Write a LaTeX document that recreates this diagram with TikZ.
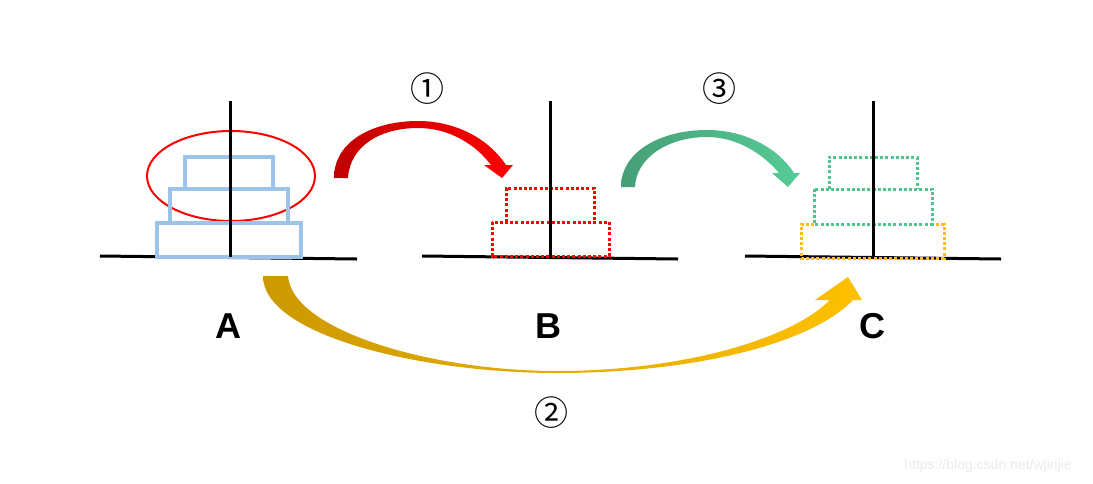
\documentclass[tikz,border=0pt]{standalone}
\usepackage{fontspec}
\setmainfont{Liberation Sans}
\newfontfamily\cjk{Noto Sans CJK SC}
\definecolor{diskblue}{RGB}{157,195,230}
\definecolor{ringred}{RGB}{255,0,0}
\definecolor{dkred}{RGB}{192,0,0}
\definecolor{dkgreen}{RGB}{70,158,118}
\definecolor{ltgreen}{RGB}{86,204,150}
\definecolor{dotgreen}{RGB}{80,196,142}
\definecolor{dkgold}{RGB}{204,153,0}
\definecolor{gold}{RGB}{255,192,0}
\begin{document}
\begin{tikzpicture}[x=1pt,y=-1pt,
  peg/.style={line width=3pt,black},
  soliddisk/.style={draw=diskblue,line width=4pt},
  dotdisk/.style={line width=3pt,dash pattern=on 3pt off 2.2pt},
  lbl/.style={font=\fontsize{36}{36}\selectfont\bfseries,inner sep=0pt},
  num/.style={font=\cjk\fontsize{34}{34}\selectfont,inner sep=0pt}]
\useasboundingbox (0,0) rectangle (1093,483);
\fill[white] (0,0) rectangle (1093,483);

% ---------- tower A ----------
\draw[ringred,line width=2pt] (231,176) ellipse [x radius=84, y radius=45];
\draw[peg] (100,256) -- (357,259);
\draw[soliddisk] (185,157) rectangle (273,189);
\draw[soliddisk] (170,189) rectangle (288,223);
\draw[soliddisk] (157,223) rectangle (301,257);
\coordinate (Atop) at (230,101);
\coordinate (Abot) at (230,257);
\draw[peg] (Atop) -- (Abot);

% ---------- tower B ----------
\draw[peg] (422,256) -- (678,259);
\draw[dotdisk,ringred] (492,222) rectangle (609,256);
\draw[dotdisk,ringred] (506,222) -- (506,188) -- (594,188) -- (594,222);
\coordinate (Btop) at (550,101);
\coordinate (Bbot) at (550,257);
\draw[peg] (Btop) -- (Bbot);

% ---------- tower C ----------
\draw[peg] (745,256) -- (1001,259);
\draw[dotdisk,gold] (814,224) -- (801,224) -- (801,258) -- (944,258) -- (944,224) -- (932,224);
\draw[dotdisk,dotgreen] (814,189) rectangle (932,224);
\draw[dotdisk,dotgreen] (829,189) -- (829,157) -- (917,157) -- (917,189);
\coordinate (Ctop) at (873,101);
\coordinate (Cbot) at (873,257);
\draw[peg] (Ctop) -- (Cbot);

% ---------- arrow 1 (A -> B) ----------
\shade[left color=dkred,right color=ringred]
  (334,178) .. controls (334,140) and (375,121) .. (418,121)
  .. controls (455,121) and (488,138) .. (506,165)
  -- (513,165) -- (502,178) -- (484,165) -- (491,165)
  .. controls (476,145) and (450,128) .. (418,128)
  .. controls (380,128) and (350,146) .. (348,178) -- cycle;

% ---------- arrow 3 (B -> C) ----------
\shade[left color=dkgreen,right color=ltgreen]
  (621,187) .. controls (621,152) and (660,130) .. (707,130)
  .. controls (745,130) and (778,148) .. (794,173)
  -- (800,173) -- (788,187) -- (772,173) -- (779,173)
  .. controls (764,155) and (738,137) .. (707,137)
  .. controls (668,137) and (636,158) .. (635,187) -- cycle;

% ---------- arrow 2 (A -> C) ----------
\shade[left color=dkgold,right color=gold]
  (263,276) .. controls (263,335) and (420,373) .. (557,373)
  .. controls (690,373) and (810,345) .. (853,300)
  -- (862,300) -- (848,277) -- (815,300) -- (830,300)
  .. controls (790,340) and (680,371) .. (557,371)
  .. controls (430,371) and (292,330) .. (288,276) -- cycle;

% ---------- labels ----------
\node[lbl] (labA) at (228,326) {A};
\node[lbl] (labB) at (548,326) {B};
\node[lbl] (labC) at (872,326) {C};
\node[num] (n1) at (427,89) {①};
\node[num] (n3) at (719,89) {③};
\node[num] (n2) at (551,413) {②};

\node[font=\fontsize{14}{14}\selectfont,text=black!8,inner sep=0pt] (wm) at (988,466) {https://blog.csdn.net/wjinjie};
\end{tikzpicture}
\end{document}
